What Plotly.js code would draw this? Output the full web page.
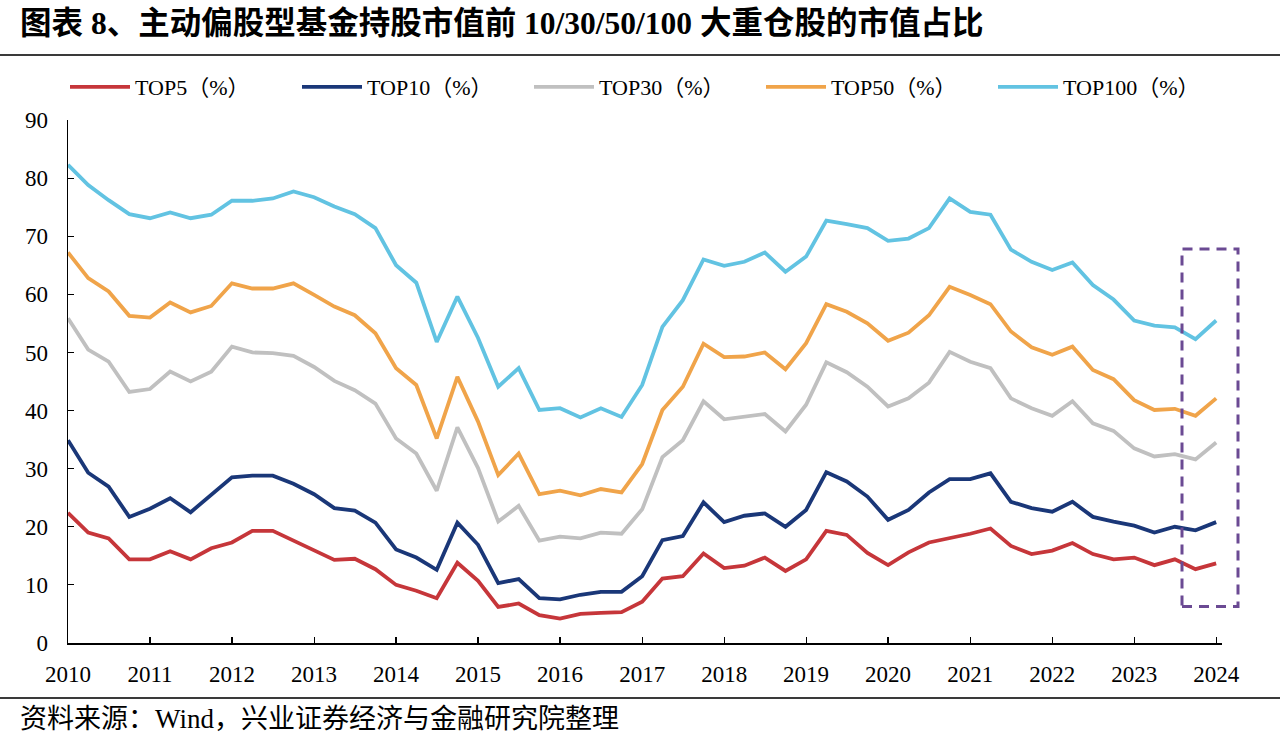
<!DOCTYPE html>
<html>
<head>
<meta charset="utf-8">
<script src="https://cdn.plot.ly/plotly-3.0.1.min.js"></script>
<style>
  html, body { margin: 0; padding: 0; background: #ffffff; }
  #chart { width: 1280px; height: 743px; }
</style>
</head>
<body>
<div id="chart"></div>
<script>
// Quarterly observation dates (2010Q1 .. 2024Q1)
const quarters = [
  '2010-01-01','2010-04-01','2010-07-01','2010-10-01',
  '2011-01-01','2011-04-01','2011-07-01','2011-10-01',
  '2012-01-01','2012-04-01','2012-07-01','2012-10-01',
  '2013-01-01','2013-04-01','2013-07-01','2013-10-01',
  '2014-01-01','2014-04-01','2014-07-01','2014-10-01',
  '2015-01-01','2015-04-01','2015-07-01','2015-10-01',
  '2016-01-01','2016-04-01','2016-07-01','2016-10-01',
  '2017-01-01','2017-04-01','2017-07-01','2017-10-01',
  '2018-01-01','2018-04-01','2018-07-01','2018-10-01',
  '2019-01-01','2019-04-01','2019-07-01','2019-10-01',
  '2020-01-01','2020-04-01','2020-07-01','2020-10-01',
  '2021-01-01','2021-04-01','2021-07-01','2021-10-01',
  '2022-01-01','2022-04-01','2022-07-01','2022-10-01',
  '2023-01-01','2023-04-01','2023-07-01','2023-10-01',
  '2024-01-01'
];

const top5 = [22.4,19.0,18.0,14.4,14.4,15.8,14.4,16.3,17.3,19.3,19.3,17.6,16.0,14.3,14.5,12.7,10.0,9.0,7.7,13.8,10.7,6.2,6.8,4.8,4.2,5.0,5.2,5.3,7.1,11.1,11.5,15.4,12.9,13.3,14.7,12.4,14.4,19.3,18.6,15.5,13.4,15.6,17.3,18.0,18.8,19.7,16.7,15.3,15.9,17.2,15.3,14.4,14.7,13.4,14.4,12.7,13.7];
const top10 = [34.9,29.3,26.9,21.7,23.1,24.9,22.5,25.5,28.5,28.8,28.8,27.4,25.6,23.2,22.8,20.7,16.1,14.7,12.6,20.7,16.9,10.3,11.0,7.7,7.5,8.3,8.8,8.8,11.5,17.7,18.4,24.2,20.8,21.9,22.3,20.0,22.9,29.4,27.8,25.2,21.2,22.9,25.9,28.2,28.2,29.2,24.3,23.2,22.6,24.3,21.7,20.9,20.2,19.0,20.0,19.4,20.8];
const top30 = [55.9,50.5,48.4,43.2,43.7,46.7,45.0,46.7,51.0,50.0,49.9,49.4,47.5,45.1,43.5,41.2,35.2,32.6,26.2,37.1,30.1,20.9,23.6,17.6,18.3,18.0,19.0,18.8,23.0,32.0,34.9,41.6,38.5,38.9,39.4,36.4,41.0,48.3,46.6,44.1,40.7,42.1,44.8,50.1,48.4,47.3,42.1,40.4,39.1,41.6,37.8,36.5,33.5,32.1,32.5,31.6,34.5];
const top50 = [67.2,62.8,60.5,56.3,56.0,58.6,56.9,58.0,61.9,61.0,61.0,61.9,59.9,57.9,56.4,53.3,47.3,44.4,35.2,45.8,38.1,28.9,32.6,25.6,26.2,25.4,26.5,25.9,30.8,40.1,44.1,51.5,49.2,49.3,50.0,47.1,51.6,58.3,57.0,55.0,52.0,53.4,56.4,61.3,59.9,58.3,53.6,50.9,49.6,51.0,47.0,45.4,41.8,40.1,40.3,39.1,42.1];
const top100 = [82.3,78.8,76.2,73.8,73.1,74.1,73.1,73.7,76.1,76.1,76.5,77.7,76.7,75.1,73.8,71.4,65.0,62.0,51.8,59.6,52.5,44.1,47.3,40.1,40.4,38.8,40.4,38.9,44.4,54.4,59.0,66.0,64.9,65.6,67.2,63.9,66.5,72.7,72.1,71.4,69.2,69.6,71.4,76.5,74.2,73.7,67.7,65.6,64.2,65.5,61.6,59.1,55.5,54.6,54.3,52.3,55.5];

const seriesNames = ['TOP5（%）','TOP10（%）','TOP30（%）','TOP50（%）','TOP100（%）'];
const seriesValues = [top5, top10, top30, top50, top100];
const seriesColors = ['#C6363A','#1A3778','#C0C0C0','#F0A44A','#62C3E2'];

const titleText = '图表 8、主动偏股型基金持股市值前 10/30/50/100 大重仓股的市值占比';
const sourceText = '资料来源：Wind，兴业证券经济与金融研究院整理';

const FONT = '"Liberation Serif", "Times New Roman", "Noto Sans CJK SC", serif';

const traces = seriesValues.map((vals, i) => {
  const t = {
    type: 'scatter',
    mode: 'lines',
    name: seriesNames[i],
    x: quarters,
    y: vals,
    line: { color: seriesColors[i], width: 3.8 },
    hoverinfo: 'x+y+name'
  };
  if (i === seriesValues.length - 1) t.legendwidth = 120;
  return t;
});

const layout = {
  width: 1280,
  height: 743,
  paper_bgcolor: '#ffffff',
  plot_bgcolor: '#ffffff',
  margin: { l: 68, r: 58, t: 120, b: 100 },
  font: { family: FONT, color: '#000000', size: 22 },
  title: {
    text: '<b>' + titleText + '</b>',
    xref: 'container', yref: 'container',
    x: 20 / 1280, xanchor: 'left',
    y: 1 - 23 / 743, yanchor: 'middle',
    font: { family: '"Liberation Serif", "Noto Sans CJK SC", serif', size: 31.5, color: '#000000' }
  },
  showlegend: true,
  legend: {
    orientation: 'h',
    x: -3 / 1154, xanchor: 'left',
    y: 1.063, yanchor: 'middle',
    font: { family: FONT, size: 22, color: '#000000' },
    itemwidth: 60,
    entrywidth: 157,
    entrywidthmode: 'pixels',
    bgcolor: 'rgba(0,0,0,0)',
    traceorder: 'normal'
  },
  xaxis: {
    type: 'date',
    range: ['2010-01-01', '2024-01-27'],
    tick0: '2010-01-01',
    dtick: 'M12',
    tickformat: '%Y',
    showgrid: false,
    zeroline: false,
    showline: true,
    linecolor: '#000000',
    linewidth: 1.5,
    ticks: 'inside',
    ticklen: 6,
    tickwidth: 1.2,
    tickcolor: '#000000',
    ticklabelstandoff: 10,
    tickfont: { family: FONT, size: 23, color: '#000000' }
  },
  yaxis: {
    range: [0, 90],
    dtick: 10,
    showgrid: false,
    zeroline: false,
    showline: true,
    linecolor: '#000000',
    linewidth: 1.5,
    ticks: 'inside',
    ticklen: 6,
    tickwidth: 1.2,
    tickcolor: '#000000',
    ticklabelstandoff: 14,
    tickfont: { family: FONT, size: 23, color: '#000000' }
  },
  shapes: [
    // rule under title
    { type: 'line', xref: 'paper', yref: 'paper',
      x0: -68 / 1154, x1: 1212 / 1154, y0: (643 - 55) / 523, y1: (643 - 55) / 523,
      line: { color: '#3a3a3a', width: 2 } },
    // rule above source
    { type: 'line', xref: 'paper', yref: 'paper',
      x0: -68 / 1154, x1: 1212 / 1154, y0: (643 - 698) / 523, y1: (643 - 698) / 523,
      line: { color: '#3a3a3a', width: 2 } },
    // dashed highlight box around latest quarters
    { type: 'rect', xref: 'paper', yref: 'paper',
      x0: (1182 - 68) / 1154, x1: (1238 - 68) / 1154,
      y0: (643 - 606.5) / 523, y1: (643 - 249) / 523,
      line: { color: '#6B4A93', width: 3, dash: '10px,7px' },
      fillcolor: 'rgba(0,0,0,0)' }
  ],
  annotations: [
    { xref: 'paper', yref: 'paper',
      x: (18 - 68) / 1154, xanchor: 'left',
      y: (643 - 719) / 523, yanchor: 'middle',
      text: sourceText, showarrow: false,
      font: { family: '"Liberation Serif", "Noto Sans CJK SC", serif', size: 27, color: '#000000' } }
  ]
};

Plotly.newPlot('chart', traces, layout, { displayModeBar: false, staticPlot: true });
</script>
</body>
</html>
